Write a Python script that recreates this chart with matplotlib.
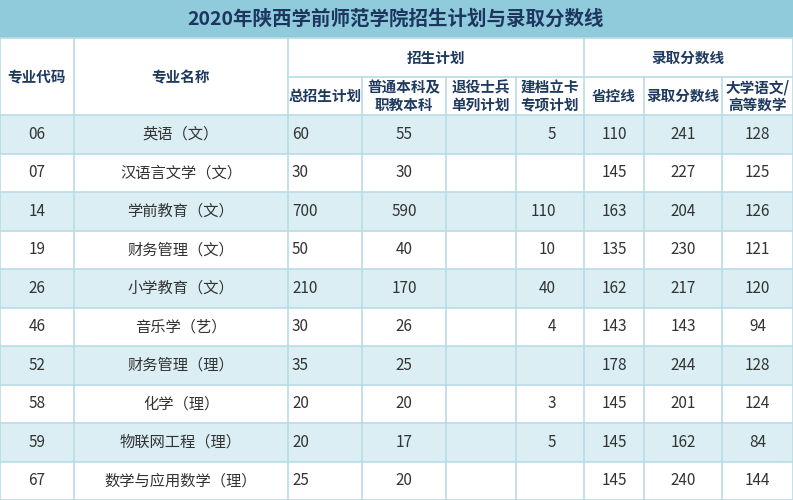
import matplotlib
matplotlib.use("Agg")
import matplotlib.pyplot as plt
from matplotlib.patches import Rectangle

plt.rcParams["font.family"] = "Noto Sans CJK SC"

title = "2020年陕西学前师范学院招生计划与录取分数线"
codes = ["06", "07", "14", "19", "26", "46", "52", "58", "59", "67"]
names = ["英语（文）", "汉语言文学（文）", "学前教育（文）", "财务管理（文）", "小学教育（文）",
         "音乐学（艺）", "财务管理（理）", "化学（理）", "物联网工程（理）", "数学与应用数学（理）"]
total_plan = ["60", "30", "700", "50", "210", "30", "35", "20", "20", "25"]
regular_plan = ["55", "30", "590", "40", "170", "26", "25", "20", "17", "20"]
veteran_plan = ["", "", "", "", "", "", "", "", "", ""]
poverty_plan = ["5", "", "110", "10", "40", "4", "", "3", "5", ""]
province_line = ["110", "145", "163", "135", "162", "143", "178", "145", "145", "145"]
admit_line = ["241", "227", "204", "230", "217", "143", "244", "201", "162", "240"]
subject_line = ["128", "125", "126", "121", "120", "94", "128", "124", "84", "144"]

fig = plt.figure(figsize=(7.93, 5.0), dpi=100)
ax = fig.add_axes([0, 0, 1, 1])
ax.set_xlim(0, 793)
ax.set_ylim(500, 0)
ax.axis("off")

xs = [0, 74, 288, 362, 446, 516, 584, 644, 722, 793]
hdr_top, hdr_mid, hdr_bot = 38, 77, 115
row_h = (500 - hdr_bot) / 10
line_c = "#b9dbe6"
txt_c = "#333333"
hdr_c = "#1f3a5f"

ax.add_patch(Rectangle((0, 0), 793, hdr_top, color="#8fcbdb", lw=0))
ax.text(396, 19, title, ha="center", va="center", fontsize=14, fontweight="bold", color="#1c3660")
ax.add_patch(Rectangle((0, hdr_top), 793, hdr_bot - hdr_top, color="white", lw=0))

for i in range(10):
    y0 = hdr_bot + i * row_h
    fc = "#daeef3" if i % 2 == 0 else "white"
    ax.add_patch(Rectangle((0, y0), 793, row_h, color=fc, lw=0))
    yc = y0 + row_h / 2
    cells = [codes[i], names[i], total_plan[i], regular_plan[i], veteran_plan[i],
             poverty_plan[i], province_line[i], admit_line[i], subject_line[i]]
    for j, t in enumerate(cells):
        ha = "center"
        if j == 0:
            x = 37
        elif j == 2:
            x, ha = 292, "left"
        elif j == 3:
            x = 404
        elif j == 5:
            x, ha = 556, "right"
        else:
            x = (xs[j] + xs[j + 1]) / 2
        ax.text(x, yc, t, ha=ha, va="center", fontsize=11, color=txt_c)

# header texts
hw = dict(ha="center", va="center", fontsize=10.5, fontweight="bold", color=hdr_c)
ax.text(37, 77, "专业代码", **hw)
ax.text(181, 77, "专业名称", **hw)
ax.text(436, 58, "招生计划", **hw)
ax.text(688, 58, "录取分数线", **hw)
subs = ["总招生计划", "普通本科及\n职教本科", "退役士兵\n单列计划", "建档立卡\n专项计划",
        "省控线", "录取分数线", "大学语文/\n高等数学"]
for k, s in enumerate(subs):
    j = k + 2
    ax.text((xs[j] + xs[j + 1]) / 2, 96, s, linespacing=1.15, **hw)

# grid lines
lw = 1.2
for y in [hdr_top, hdr_bot] + [hdr_bot + i * row_h for i in range(1, 11)]:
    ax.plot([0, 793], [y, y], color=line_c, lw=lw)
ax.plot([288, 793], [hdr_mid, hdr_mid], color=line_c, lw=lw)
for x in xs:
    if x in (362, 446, 516, 644, 722):
        ax.plot([x, x], [hdr_mid, 500], color=line_c, lw=lw)
    else:
        ax.plot([x, x], [hdr_top, 500], color=line_c, lw=lw)

fig.savefig("out.png", dpi=100)
